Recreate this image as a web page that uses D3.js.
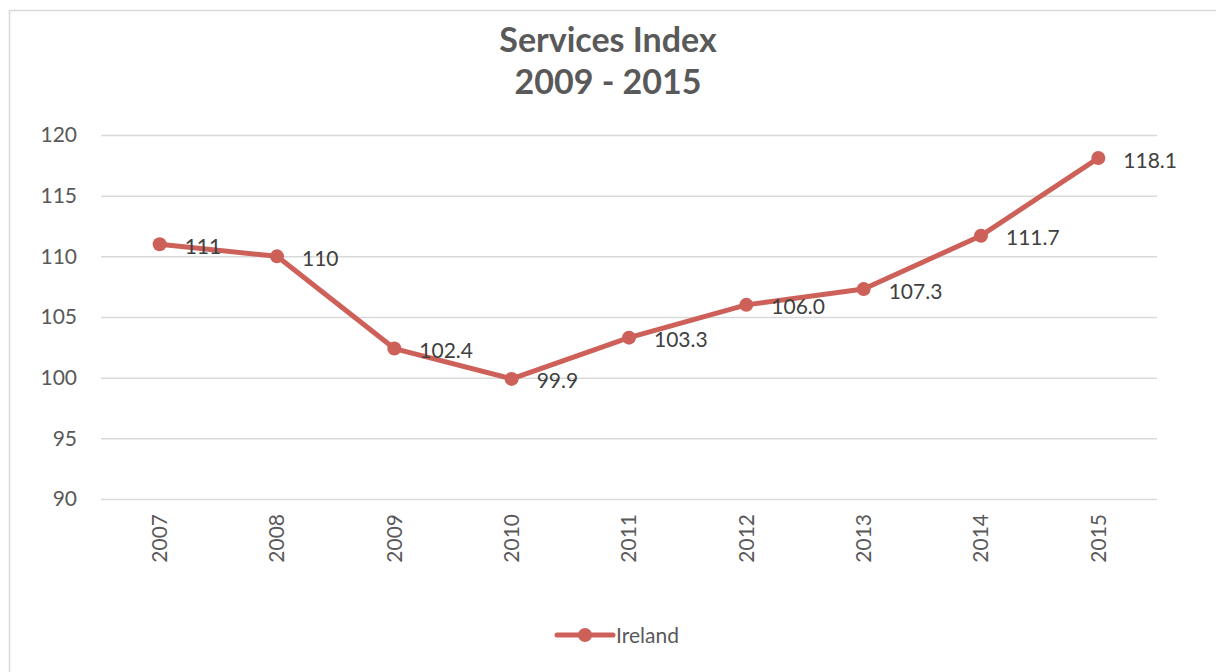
<!DOCTYPE html>
<html>
<head>
<meta charset="utf-8">
<script src="https://cdn.jsdelivr.net/npm/d3@7"></script>
<style>
  body { margin: 0; background: #fff; }
  svg { display: block; font-family: Lato, "Open Sans", sans-serif; }
</style>
</head>
<body>
<svg id="chart" width="1216" height="672"></svg>
<script>
var years = ["2007", "2008", "2009", "2010", "2011", "2012", "2013", "2014", "2015"];
var ireland = [111, 110, 102.4, 99.9, 103.3, 106.0, 107.3, 111.7, 118.1];
var pointLabels = ["111", "110", "102.4", "99.9", "103.3", "106.0", "107.3", "111.7", "118.1"];
var yTicks = [90, 95, 100, 105, 110, 115, 120];
var titleLines = ["Services Index", "2009 - 2015"];
var seriesName = "Ireland";

var svg = d3.select('#chart');
var lineColor = "#CD6159";

var plotLeft = 101, plotRight = 1157, plotTop = 135, plotBottom = 499;

var xScale = d3.scaleBand()
    .domain(years)
    .range([plotLeft, plotRight]);

var yScale = d3.scaleLinear()
    .domain([90, 120])
    .range([plotBottom, plotTop]);

// chart border
svg.append("rect")
    .attr("x", 9.5).attr("y", 10.5)
    .attr("width", 1220).attr("height", 680)
    .attr("fill", "none")
    .attr("stroke", "#d9d9d9")
    .attr("stroke-width", 1.5);

// title
svg.append("g").selectAll("text")
    .data(titleLines)
    .enter()
    .append("text")
    .attr("x", 608)
    .attr("y", function(d, i){ return 52 + i * 42; })
    .attr("text-anchor", "middle")
    .attr("font-size", "34px")
    .attr("font-weight", "bold")
    .attr("fill", "#595959")
    .text(function(d){ return d; });

// y axis with gridlines
var yAxis = svg.append("g")
    .attr("transform", "translate(" + plotLeft + ",0)")
    .call(d3.axisLeft(yScale).tickValues(yTicks).tickSize(-(plotRight - plotLeft)).tickPadding(24));
yAxis.select(".domain").remove();
yAxis.selectAll(".tick line").attr("stroke", "#d9d9d9").attr("stroke-width", 1.5);
yAxis.selectAll(".tick text")
    .attr("font-size", "21px")
    .attr("font-family", "Lato, sans-serif")
    .attr("fill", "#595959");

// x axis labels (rotated)
var xAxis = svg.append("g")
    .attr("transform", "translate(0," + plotBottom + ")")
    .call(d3.axisBottom(xScale).tickSize(0));
xAxis.select(".domain").remove();
xAxis.selectAll(".tick text")
    .attr("font-size", "21px")
    .attr("font-family", "Lato, sans-serif")
    .attr("fill", "#595959")
    .attr("transform", "rotate(-90)")
    .attr("text-anchor", "end")
    .attr("x", -15)
    .attr("y", 0)
    .attr("dy", "0.35em");

var cx = function(d, i){ return xScale(years[i]) + xScale.bandwidth() / 2; };

// line
var line = d3.line()
    .x(function(d, i){ return cx(d, i); })
    .y(function(d){ return yScale(d); });

svg.append("path")
    .datum(ireland)
    .attr("d", line)
    .attr("fill", "none")
    .attr("stroke", lineColor)
    .attr("stroke-width", 5)
    .attr("stroke-linejoin", "round");

svg.append("g").selectAll("circle")
    .data(ireland)
    .enter()
    .append("circle")
    .attr("cx", cx)
    .attr("cy", function(d){ return yScale(d); })
    .attr("r", 7)
    .attr("fill", lineColor);

// data labels
svg.append("g").selectAll("text")
    .data(ireland)
    .enter()
    .append("text")
    .attr("x", function(d, i){ return cx(d, i) + 25; })
    .attr("y", function(d){ return yScale(d); })
    .attr("dy", "0.45em")
    .attr("font-size", "21px")
    .attr("fill", "#404040")
    .text(function(d, i){ return pointLabels[i]; });

// legend
var legend = svg.append("g").attr("transform", "translate(557,635)");
legend.append("line")
    .attr("x1", 0).attr("x2", 56)
    .attr("y1", 0).attr("y2", 0)
    .attr("stroke", lineColor)
    .attr("stroke-width", 5)
    .attr("stroke-linecap", "round");
legend.append("circle")
    .attr("cx", 28).attr("cy", 0).attr("r", 7)
    .attr("fill", lineColor);
legend.append("text")
    .attr("x", 59).attr("y", 0)
    .attr("dy", "0.36em")
    .attr("font-size", "21px")
    .attr("fill", "#595959")
    .text(seriesName);
</script>
</body>
</html>
